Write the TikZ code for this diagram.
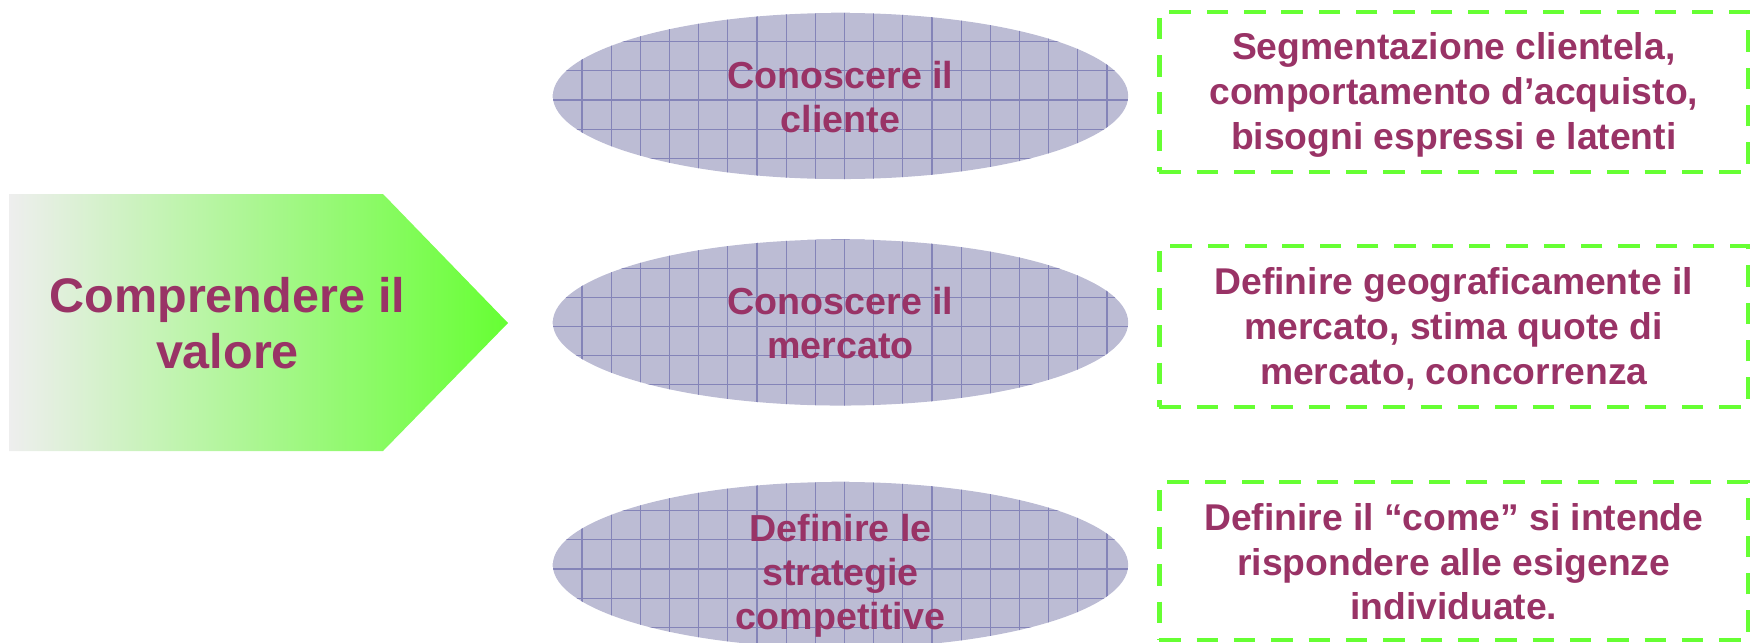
\documentclass[tikz,border=0pt]{standalone}
\usepackage{fontspec}
\setmainfont{Liberation Sans}
\usetikzlibrary{shapes.geometric}

\definecolor{plum}{HTML}{993366}
\definecolor{lime}{HTML}{66FF33}
\definecolor{paleGray}{HTML}{EEEEEE}
\definecolor{lavender}{RGB}{188,188,212}
\definecolor{gridBlue}{RGB}{132,132,184}

\tikzset{
  x=0.01cm, y=-0.01cm,
  gridline/.style={draw=gridBlue, line width=0.3pt},
  topic/.style={
    ellipse, fill=lavender, minimum width=5.75cm, minimum height=1.66cm,
    inner sep=0pt,
    path picture={
      \foreach \k in {-10,...,10}{
        \pgfmathsetmacro\dx{0.04+0.2915*\k}
        \draw[gridline] ([xshift=\dx cm, yshift=-1cm]path picture bounding box.center) -- ++(0,2cm);
      }
      \foreach \k in {-3,...,3}{
        \pgfmathsetmacro\dy{-0.04-0.2915*\k}
        \draw[gridline] ([xshift=-3cm, yshift=\dy cm]path picture bounding box.center) -- ++(6cm,0);
      }
    }
  },
  topictext/.style={
    text=plum, align=center, inner sep=0pt,
    font=\fontsize{10.7}{12.5}\selectfont\bfseries
  },
  detail/.style={
    draw=lime, line width=1.28pt, dash pattern=on 0.215cm off 0.158cm,
    minimum width=5.885cm, inner sep=0pt
  },
  detailtext/.style={
    text=plum, align=center, inner sep=0pt,
    font=\fontsize{10.6}{12.7}\selectfont\bfseries
  },
  headline/.style={
    text=plum, align=center, font=\fontsize{13.8}{15.9}\selectfont\bfseries
  }
}

\begin{document}
\begin{tikzpicture}
  \useasboundingbox (0,0) rectangle (1754,642);

  % pentagon arrow with gray-to-green fade
  \shade[left color=paleGray, right color=lime]
    (9,194) -- (383,194) -- (508,323) -- (383,451) -- (9,451) -- cycle;
  \node[headline] (valore) at (227.5,323) {Comprendere il\\valore};

  % three topics
  \node[topic] (cliente) at (840.5,96) {};
  \node[topic] (mercato) at (840.5,322.5) {};
  \node[topic] (strategie) at (840.5,565) {};
  \node[topictext] (clienteT) at ([yshift=-0.015cm]cliente.center) {Conoscere il\\cliente};
  \node[topictext] (mercatoT) at ([yshift=-0.005cm]mercato.center) {Conoscere il\\mercato};
  \node[topictext] (strategieT) at ([yshift=-0.11cm]strategie.center) {Definire le\\strategie\\competitive};

  % their details
  \node[detail, minimum height=1.6cm] (segmenti) at (1453.75,92) {};
  \node[detail, minimum height=1.61cm] (geografia) at (1453.75,326.5) {};
  \node[detail, minimum height=1.58cm] (risposta) at (1453.75,561) {};
  \node[detailtext] (segmentiT) at ([yshift=-0.03cm]segmenti.center)
    {Segmentazione clientela,\\comportamento d’acquisto,\\bisogni espressi e latenti};
  \node[detailtext] (geografiaT) at ([yshift=-0.025cm]geografia.center)
    {Definire geograficamente il\\mercato, stima quote di\\mercato, concorrenza};
  \node[detailtext] (rispostaT) at ([yshift=-0.01cm]risposta.center)
    {Definire il “come” si intende\\rispondere alle esigenze\\individuate.};
\end{tikzpicture}
\end{document}
